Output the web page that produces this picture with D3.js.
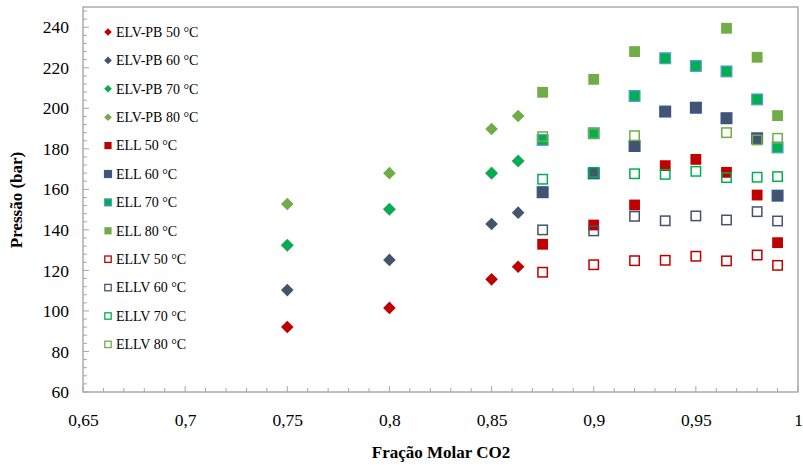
<!DOCTYPE html>
<html><head><meta charset="utf-8">
<script src="https://cdn.jsdelivr.net/npm/d3@7"></script>
<style>body{margin:0;background:#fff}svg{display:block}text{font-family:"Liberation Serif","Times New Roman",serif}</style>
</head><body><div id="c"></div>
<script>
const xTicks = [0.65,0.7,0.75,0.8,0.85,0.9,0.95,1];
const yTicks = [60,80,100,120,140,160,180,200,220,240];
const xPB = [0.75,0.8,0.85,0.863];
const elvpb50 = [92.1,101.5,115.6,121.8];
const elvpb60 = [110.3,125.2,142.9,148.5];
const elvpb70 = [132.4,150.2,168.0,174.0];
const elvpb80 = [152.8,168.0,189.8,196.2];
const xL = [0.875,0.9,0.92,0.935,0.95,0.965,0.98,0.99];
const xL80 = [0.875,0.9,0.92,0.965,0.98,0.99];
const ell50 = [132.9,142.4,152.3,171.7,174.8,168.4,157.2,133.7];
const ell60 = [158.6,167.9,181.4,198.4,200.3,195.1,185.2,156.9];
const ell70 = [184.4,187.7,206.1,224.7,220.9,218.2,204.4,180.7];
const ell80 = [207.9,214.3,228.0,239.5,225.2,196.4];
const ellv50 = [119.1,122.8,124.8,125.0,127.0,124.7,127.6,122.5];
const ellv60 = [140.0,139.5,146.7,144.5,146.9,144.9,149.0,144.4];
const ellv70 = [165.0,168.4,167.7,167.4,168.9,165.8,166.0,166.3];
const ellv80 = [186.0,187.5,186.5,188.0,184.4,185.2];

const series = [
 {name:"ELV-PB 50 °C", xs:xPB, ys:elvpb50, shape:"d", fill:"#C00000", stroke:"none"},
 {name:"ELV-PB 60 °C", xs:xPB, ys:elvpb60, shape:"d", fill:"#44546A", stroke:"none"},
 {name:"ELV-PB 70 °C", xs:xPB, ys:elvpb70, shape:"d", fill:"#00B050", stroke:"#7f7f7f"},
 {name:"ELV-PB 80 °C", xs:xPB, ys:elvpb80, shape:"d", fill:"#70AD47", stroke:"none"},
 {name:"ELL 50 °C", xs:xL, ys:ell50, shape:"s", fill:"#C00000", stroke:"none"},
 {name:"ELL 60 °C", xs:xL, ys:ell60, shape:"s", fill:"#44546A", stroke:"#2F5597"},
 {name:"ELL 70 °C", xs:xL, ys:ell70, shape:"s", fill:"#00B050", stroke:"#5B9BD5"},
 {name:"ELL 80 °C", xs:xL80, ys:ell80, shape:"s", fill:"#70AD47", stroke:"none"},
 {name:"ELLV 50 °C", xs:xL, ys:ellv50, shape:"o", fill:"#fff", stroke:"#C00000"},
 {name:"ELLV 60 °C", xs:xL, ys:ellv60, shape:"o", fill:"#fff", stroke:"#44546A"},
 {name:"ELLV 70 °C", xs:xL, ys:ellv70, shape:"o", fill:"#fff", stroke:"#00B050"},
 {name:"ELLV 80 °C", xs:xL80, ys:ellv80, shape:"o", fill:"#fff", stroke:"#70AD47"}
];

const W=803,H=465, L=83, R=798, T=7, B=392;
const svg=d3.select("#c").append("svg").attr("width",W).attr("height",H);
const x=d3.scaleLinear().domain([0.65,1]).range([L,R]);
const y=d3.scaleLinear().domain([60,250]).range([B,T]);

// frame
svg.append("rect").attr("x",L).attr("y",T).attr("width",R-L).attr("height",B-T)
  .attr("fill","none").attr("stroke","#a6a6a6").attr("stroke-width",1.4);

// minor ticks
const g=svg.append("g");
g.selectAll(".xm").data(d3.range(0,36).map(i=>0.65+i*0.01)).join("line")
  .attr("x1",d=>x(d)).attr("x2",d=>x(d)).attr("y1",B).attr("y2",(d,i)=>i%5===0?B-6:B-4)
  .attr("stroke","#a6a6a6").attr("stroke-width",1);
g.selectAll(".ym").data(d3.range(0,48).map(i=>60+i*4).filter(v=>v<=250)).join("line")
  .attr("y1",d=>y(d)).attr("y2",d=>y(d)).attr("x1",L).attr("x2",(d,i)=>i%5===0?L+6:L+4)
  .attr("stroke","#a6a6a6").attr("stroke-width",1);

// axes labels via d3 axes (no lines)
const xa=svg.append("g").attr("transform",`translate(0,${B})`)
  .call(d3.axisBottom(x).tickValues(xTicks).tickSize(0).tickPadding(22)
  .tickFormat(d=>String(+d.toFixed(2)).replace(".",",")));
xa.select(".domain").remove();
xa.selectAll("text").attr("font-size",17.5).attr("fill","#000").attr("font-family","Liberation Serif");
const ya=svg.append("g").attr("transform",`translate(${L},0)`)
  .call(d3.axisLeft(y).tickValues(yTicks).tickSize(0).tickPadding(14));
ya.select(".domain").remove();
ya.selectAll("text").attr("font-size",17.5).attr("fill","#000").attr("font-family","Liberation Serif");

svg.append("text").attr("x",441).attr("y",458).attr("text-anchor","middle")
  .attr("font-size",17).attr("font-weight","bold").text("Fração Molar CO2");
svg.append("text").attr("transform","translate(22,200) rotate(-90)").attr("text-anchor","middle")
  .attr("font-size",17).attr("font-weight","bold").text("Pressão (bar)");

function sym(sel, shape, s){
  if(shape==="d") return sel.append("path").attr("d",`M0,${-s}L${s},0L0,${s}L${-s},0Z`);
  return sel.append("rect").attr("x",-s).attr("y",-s).attr("width",2*s).attr("height",2*s);
}
const plot=svg.append("g");
series.forEach(sr=>{
  sr.xs.forEach((xv,i)=>{
    const gg=plot.append("g").attr("transform",`translate(${x(xv)},${y(sr.ys[i])})`);
    if(sr.shape==="d") sym(gg,"d",6.3).attr("fill",sr.fill).attr("stroke",sr.stroke==="none"?"none":sr.stroke).attr("stroke-width",0.5);
    else if(sr.shape==="s") sym(gg,"s",5.4).attr("fill",sr.fill).attr("stroke",sr.stroke).attr("stroke-width",sr.stroke==="none"?0:1.2);
    else sym(gg,"s",4.7).attr("fill","none").attr("stroke",sr.stroke).attr("stroke-width",1.5);
  });
});

// legend
const lg=svg.append("g");
series.forEach((sr,i)=>{
  const yy=32+i*28.4;
  const gg=lg.append("g").attr("transform",`translate(108,${yy})`);
  if(sr.shape==="d") sym(gg,"d",3.8).attr("fill",sr.fill);
  else if(sr.shape==="s") sym(gg,"s",3.6).attr("fill",sr.fill).attr("stroke",sr.stroke).attr("stroke-width",sr.stroke==="none"?0:1);
  else sym(gg,"s",3.2).attr("fill","none").attr("stroke",sr.stroke).attr("stroke-width",1.3);
  lg.append("text").attr("x",116).attr("y",yy+4.8).attr("font-size",14).attr("fill","#000").text(sr.name);
});
</script></body></html>
